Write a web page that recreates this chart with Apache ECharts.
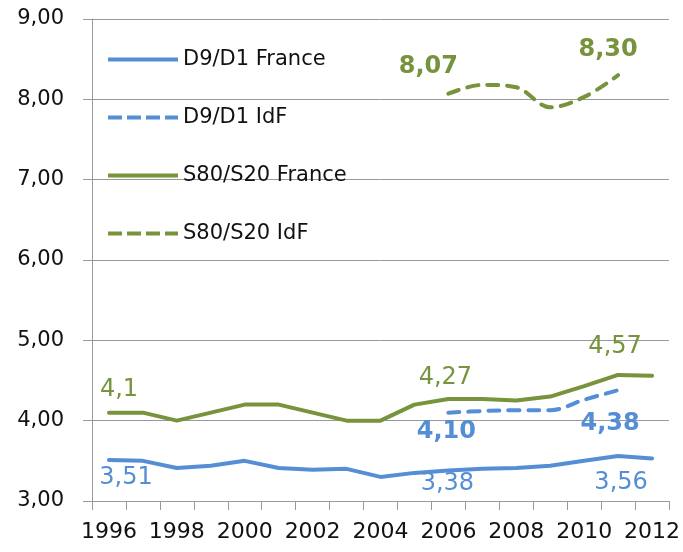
<!DOCTYPE html>
<html>
<head>
<meta charset="utf-8">
<script src="https://cdn.jsdelivr.net/npm/echarts@6/dist/echarts.min.js"></script>
<style>
  html, body { margin: 0; padding: 0; background: #fff; }
  #chart { width: 683px; height: 552px; }
</style>
</head>
<body>
<div id="chart"></div>
<script>
const years = ['1996', '1997', '1998', '1999', '2000', '2001', '2002', '2003', '2004',
  '2005', '2006', '2007', '2008', '2009', '2010', '2011', '2012'];

const d9d1France = [3.51, 3.50, 3.41, 3.44, 3.50, 3.41, 3.39, 3.40, 3.30,
  3.35, 3.38, 3.40, 3.41, 3.44, 3.50, 3.56, 3.53];
const d9d1IdF = [null, null, null, null, null, null, null, null, null,
  null, 4.10, 4.12, 4.13, 4.13, 4.26, 4.38, null];
const s80s20France = [4.10, 4.10, 4.00, 4.10, 4.20, 4.20, 4.10, 4.00, 4.00,
  4.20, 4.27, 4.27, 4.25, 4.30, 4.43, 4.57, 4.56];
const s80s20IdF = [null, null, null, null, null, null, null, null, null,
  null, 8.07, 8.18, 8.15, 7.90, 8.03, 8.30, null];

const yTicks = [3, 4, 5, 6, 7, 8, 9];

// labelled points: series, year, decimals shown
const labelled = [
  ['D9/D1 France', '1996', 2],
  ['D9/D1 France', '2006', 2],
  ['D9/D1 France', '2011', 2],
  ['D9/D1 IdF', '2006', 2],
  ['D9/D1 IdF', '2011', 2],
  ['S80/S20 France', '1996', 1],
  ['S80/S20 France', '2006', 2],
  ['S80/S20 France', '2011', 2],
  ['S80/S20 IdF', '2006', 2],
  ['S80/S20 IdF', '2011', 2],
];

const BLUE = '#558ED5';
const GREEN = '#77933C';
const FONT = 'DejaVu Sans';

// where each label sits relative to its point (centre offset, px)
const labelOffsets = {
  'D9/D1 France|1996': [17, 18],
  'D9/D1 France|2006': [-1, 13],
  'D9/D1 France|2011': [3, 27],
  'D9/D1 IdF|2006': [-2, 19],
  'D9/D1 IdF|2011': [-8, 34],
  'S80/S20 France|1996': [10, -23],
  'S80/S20 France|2006': [-3, -21],
  'S80/S20 France|2011': [-3, -28],
  'S80/S20 IdF|2006': [-20, -27],
  'S80/S20 IdF|2011': [-10, -25],
};

// legend icons: a thick bar, or four dashes
const SOLID_ICON = 'path://M0,0h70v4h-70z';
const DASH_ICON = 'path://M0,0h14v4h-14z M19,0h14v4h-14z M38,0h14v4h-14z M57,0h13v4h-13z';

const fmt = (v, d) => v.toFixed(d).replace('.', ',');

const buildData = (name, values, bold, color) =>
  values.map((v, i) => {
    const hit = labelled.find((l) => l[0] === name && l[1] === years[i]);
    if (!hit || v == null) return v;
    return {
      value: v,
      symbol: 'circle',
      symbolSize: 1,
      label: {
        show: true,
        position: 'inside',
        offset: labelOffsets[name + '|' + years[i]],
        formatter: () => fmt(v, hit[2]),
        color,
        fontFamily: FONT,
        fontSize: 24,
        fontWeight: bold ? 'bold' : 'normal',
      },
    };
  });

const makeSeries = (name, values, color, dashed, bold) => ({
  name,
  type: 'line',
  data: buildData(name, values, bold, color),
  symbol: 'none',
  smooth: dashed ? 0.35 : false,
  connectNulls: false,
  lineStyle: {
    color,
    width: 4,
    type: dashed ? [11, 9] : 'solid',
    cap: 'round',
  },
  itemStyle: { color },
  z: dashed ? 3 : 2,
});

const chart = echarts.init(document.getElementById('chart'), null, { renderer: 'canvas' });

chart.setOption({
  animation: false,
  backgroundColor: '#fff',
  grid: { left: 92, right: 13, top: 19, bottom: 51 },
  legend: {
    orient: 'vertical',
    left: 108,
    top: 49,
    padding: 0,
    itemWidth: 70,
    itemHeight: 4,
    itemGap: 37,
    textStyle: { fontFamily: FONT, fontSize: 21, lineHeight: 20, color: '#111' },
    data: [
      { name: 'D9/D1 France', icon: SOLID_ICON },
      { name: 'D9/D1 IdF', icon: DASH_ICON },
      { name: 'S80/S20 France', icon: SOLID_ICON },
      { name: 'S80/S20 IdF', icon: DASH_ICON },
    ],
  },
  xAxis: {
    type: 'category',
    data: years,
    boundaryGap: true,
    axisLine: { lineStyle: { color: '#999', width: 1 } },
    axisTick: { show: true, length: 9, interval: 0, lineStyle: { color: '#999' } },
    axisLabel: {
      interval: 1,
      margin: 20,
      fontFamily: FONT,
      fontSize: 22,
      color: '#111',
    },
  },
  yAxis: {
    type: 'value',
    min: yTicks[0],
    max: yTicks[yTicks.length - 1],
    interval: 1,
    axisLine: { show: true, lineStyle: { color: '#999', width: 1 } },
    axisTick: { show: true, length: 9, lineStyle: { color: '#999' } },
    splitLine: { lineStyle: { color: '#999', width: 1 } },
    axisLabel: {
      margin: 28,
      fontFamily: FONT,
      fontSize: 21,
      color: '#111',
      formatter: (v) => fmt(v, 2),
    },
  },
  series: [
    makeSeries('D9/D1 France', d9d1France, BLUE, false, false),
    makeSeries('D9/D1 IdF', d9d1IdF, BLUE, true, true),
    makeSeries('S80/S20 France', s80s20France, GREEN, false, false),
    makeSeries('S80/S20 IdF', s80s20IdF, GREEN, true, true),
  ],
});
</script>
</body>
</html>
